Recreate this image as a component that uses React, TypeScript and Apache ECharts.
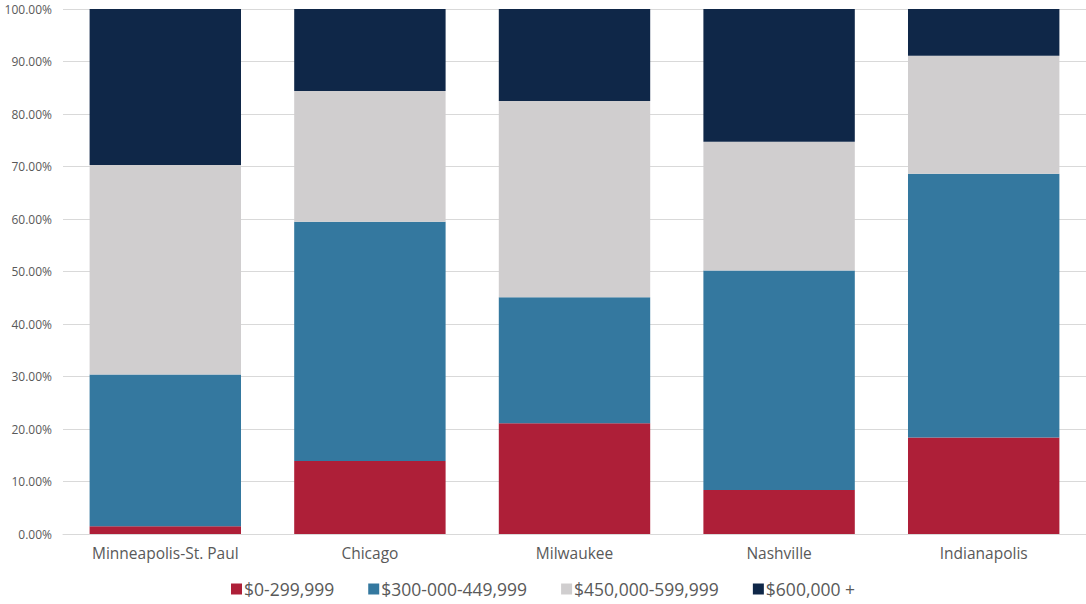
import React, { useEffect, useRef } from "react";
import * as echarts from "echarts";

const categories = ["Minneapolis-St. Paul", "Chicago", "Milwaukee", "Nashville", "Indianapolis"];
const seriesNames = ["$0-299,999", "$300-000-449,999", "$450,000-599,999", "$600,000 +"];
const low = [1.5, 13.9, 21.1, 8.4, 18.4];
const midLow = [28.9, 45.6, 24.0, 41.8, 50.2];
const midHigh = [39.9, 24.9, 37.4, 24.5, 22.5];
const high = [29.7, 15.6, 17.5, 25.3, 8.9];
const colors = ["#AE1F38", "#34789F", "#D0CECF", "#0F2748"];

export default function App() {
  const ref = useRef<HTMLDivElement>(null);
  useEffect(() => {
    const chart = echarts.init(ref.current!, null, { renderer: "svg" });
    const data = [low, midLow, midHigh, high];
    chart.setOption({
      animation: false,
      textStyle: { fontFamily: "Open Sans" },
      grid: { left: 63, right: 0, top: 9, bottom: 70 },
      legend: {
        bottom: 1,
        left: "center",
        itemWidth: 11,
        itemHeight: 11,
        itemGap: 34,
        icon: "rect",
        textStyle: { fontSize: 17.5, color: "#595959", padding: [0, 0, 0, -3] },
        data: seriesNames,
      },
      xAxis: {
        type: "category",
        data: categories,
        axisLine: { lineStyle: { color: "#d9d9d9" } },
        axisTick: { show: false },
        axisLabel: { fontSize: 15.5, color: "#595959", margin: 11 },
      },
      yAxis: {
        type: "value",
        min: 0,
        max: 100,
        interval: 10,
        axisLine: { show: false },
        axisTick: { show: false },
        splitLine: { lineStyle: { color: "#d9d9d9" } },
        axisLabel: {
          fontSize: 12,
          color: "#595959",
          margin: 11,
          formatter: (v: number) => v.toFixed(2) + "%",
        },
      },
      series: seriesNames.map((name, i) => ({
        name,
        type: "bar",
        stack: "total",
        barCategoryGap: "26%",
        data: data[i],
        itemStyle: { color: colors[i] },
      })),
    });
    return () => chart.dispose();
  }, []);
  return <div ref={ref} style={{ width: 1086, height: 604, position: "absolute", left: 0, top: 0 }} />;
}
